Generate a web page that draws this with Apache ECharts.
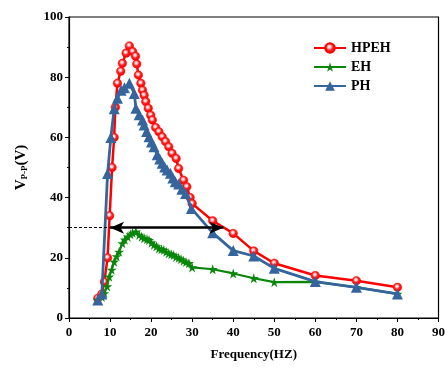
<!DOCTYPE html>
<html>
<head>
<meta charset="utf-8">
<script src="https://cdn.jsdelivr.net/npm/echarts@6/dist/echarts.min.js"></script>
<style>html,body{margin:0;padding:0;background:#fff;}#c{width:448px;height:369px;}</style>
</head>
<body>
<div id="c"></div>
<script>
const hpehF = [7,8,8.6,9.4,9.9,10.5,11,11.3,11.8,12.6,13,13.9,14.7,15.5,16.2,16.5,16.9,17.5,17.9,18.3,18.7,19.3,19.9,20.3,21.1,21.9,22.7,23.5,24.3,25.1,26.1,26.7,27.9,28.7,29.5,30,35,40,45,50,60,70,80];
const hpehV = [6.5,8,12,20,34,50,60,70,78,82,84.6,88,90.4,88.5,87,84.4,80.7,78,75.7,74,71.9,69.7,67.4,65.8,63.3,61.9,60.2,58.6,56.9,54.7,53,49.7,45.8,43.6,40,38,32.3,28.1,22.3,18.2,14.1,12.4,10.2];
const ehF = [7,8,8.6,9.3,9.8,10.4,11,11.6,12.2,13,13.6,14.3,15,15.5,16.3,17.1,17.7,18.3,19,19.5,20.1,20.7,21.3,21.9,22.5,23.1,23.7,24.3,24.9,25.5,26.1,26.7,27.3,27.9,28.5,29.2,30,35,40,45,50,60,70,80];
const ehV = [6,7,8.2,10.5,13.7,16,18.7,20.5,22,24.8,26,27,27.8,28.3,28.7,27.6,27,26.5,26.2,25.9,25,24.3,23.8,23.1,22.8,22.6,22,21.5,21.2,20.9,20.3,20,19.5,19,18.6,18.2,16.8,16.2,14.8,13.2,11.9,12,10.2,8];
const phF = [7,8,9.4,10.2,11,11.8,12.7,13.5,14.7,15.9,16.3,17.1,17.9,18.3,18.9,19.5,20.1,20.7,21.5,22.1,22.7,23.3,23.9,24.7,25.3,25.9,26.7,27.5,28.4,29.8,35,40,45,50,60,70,80];
const phV = [6,8,48,60,69.5,73,75.7,76.5,78,74.6,69.7,67.5,65.8,64.1,62,60.2,58.5,56.9,54.2,52.8,51.4,50.2,49.2,48.1,46.5,45.3,44.5,42.8,41.4,36.4,28.3,22.4,20.6,16.5,12.1,10.2,8];
const xTicks = {min: 0, max: 90, interval: 10};
const yTicks = {min: 0, max: 100, interval: 20};
const arrowLevel = 30;
const arrowFrom = 10;
const arrowTo = 37.6;
const dashFrom = 0;

const zip = (a, b) => a.map((v, i) => [v, b[i]]);
const serif = '"Liberation Serif","DejaVu Serif",serif';
const starPath = 'path://M50,0 L61,35 L98,35 L68,57 L79,91 L50,70 L21,91 L32,57 L2,35 L39,35 Z';
const redFill = new echarts.graphic.RadialGradient(0.45, 0.4, 0.55, [
  {offset: 0, color: '#ffffff'}, {offset: 0.25, color: '#ffc8c8'}, {offset: 0.55, color: '#ff2020'}, {offset: 1, color: '#ff0000'}
]);

const chart = echarts.init(document.getElementById('c'), null, {renderer: 'canvas'});
chart.setOption({
  animation: false,
  backgroundColor: '#fff',
  grid: {left: 69, right: 6, top: 17, bottom: 51, show: true, borderColor: '#000', borderWidth: 1.2, backgroundColor: 'transparent'},
  legend: {
    orient: 'vertical', left: 308, top: 36, itemGap: 5, itemWidth: 32, itemHeight: 12,
    textStyle: {fontFamily: serif, fontWeight: 'bold', fontSize: 14, color: '#000'},
    data: ['HPEH', 'EH', 'PH']
  },
  xAxis: {
    type: 'value', min: xTicks.min, max: xTicks.max, interval: xTicks.interval,
    name: 'Frequency(HZ)', nameLocation: 'middle', nameGap: 30,
    nameTextStyle: {fontFamily: serif, fontWeight: 'bold', fontSize: 13, color: '#000'},
    axisLine: {lineStyle: {color: '#000', width: 1.2}},
    axisTick: {show: true, inside: false, length: 4, lineStyle: {color: '#000'}},
    minorTick: {show: true, splitNumber: 2, length: 2, lineStyle: {color: '#000'}},
    axisLabel: {fontFamily: serif, fontWeight: 'bold', fontSize: 13, color: '#000', margin: 8, showMaxLabel: true},
    splitLine: {show: false}
  },
  yAxis: {
    type: 'value', min: yTicks.min, max: yTicks.max, interval: yTicks.interval,
    name: '{a|V}{b|P-P}{a|(V)}', nameLocation: 'middle', nameGap: 40, nameRotate: 90,
    nameTextStyle: {
      color: '#000',
      rich: {
        a: {fontFamily: serif, fontWeight: 'bold', fontSize: 15, color: '#000'},
        b: {fontFamily: serif, fontWeight: 'bold', fontSize: 9, color: '#000', verticalAlign: 'bottom', padding: [6, 0, 0, 0]}
      }
    },
    axisLine: {show: true, lineStyle: {color: '#000', width: 1.2}},
    axisTick: {show: true, inside: false, length: 4, lineStyle: {color: '#000'}},
    minorTick: {show: true, splitNumber: 2, length: 2, lineStyle: {color: '#000'}},
    axisLabel: {fontFamily: serif, fontWeight: 'bold', fontSize: 13, color: '#000', margin: 6},
    splitLine: {show: false}
  },
  series: [
    {
      name: 'HPEH', type: 'line', data: zip(hpehF, hpehV),
      symbol: 'circle', symbolSize: 8.5,
      lineStyle: {color: '#ff0000', width: 2.5},
      itemStyle: {color: redFill, borderColor: '#ff0000', borderWidth: 0.5},
      z: 2
    },
    {
      name: 'EH', type: 'line', data: zip(ehF, ehV),
      symbol: starPath, symbolSize: 10,
      lineStyle: {color: '#0a870a', width: 2.2},
      itemStyle: {color: '#0a870a'},
      z: 3
    },
    {
      name: 'PH', type: 'line', data: zip(phF, phV),
      symbol: 'triangle', symbolSize: 11,
      lineStyle: {color: '#35659c', width: 2.8},
      itemStyle: {color: '#35659c'},
      z: 4,
      markLine: {
        silent: true, animation: false, label: {show: false},
        data: [
          [{coord: [arrowFrom, arrowLevel], symbol: 'arrow', symbolSize: [9, 14]},
           {coord: [arrowTo, arrowLevel], symbol: 'arrow', symbolSize: [9, 14]}],
          [{coord: [dashFrom, arrowLevel], symbol: 'none', lineStyle: {type: [3, 2], width: 1}},
           {coord: [arrowFrom, arrowLevel], symbol: 'none'}]
        ],
        lineStyle: {color: '#000', width: 2.5, type: 'solid'},
        z: 6
      }
    }
  ]
});
</script>
</body>
</html>
